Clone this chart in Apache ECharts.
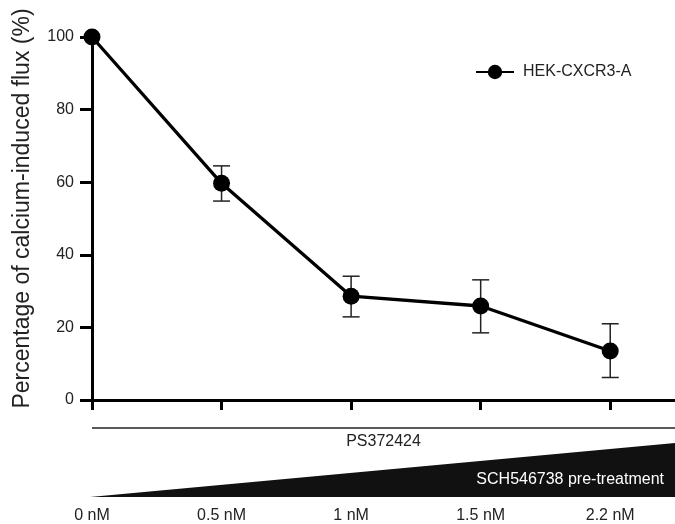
<!DOCTYPE html>
<html>
<head>
<meta charset="utf-8">
<script src="https://cdn.jsdelivr.net/npm/echarts@6/dist/echarts.min.js"></script>
<style>
	html, body { margin: 0; padding: 0; background: #fff; }
	#chart { width: 675px; height: 524px; }
</style>
</head>
<body>
<div id="chart"></div>
<script>
	// doses of PS372424 / SCH546738 (x categories)
	const doses = ['0 nM', '0.5 nM', '1 nM', '1.5 nM', '2.2 nM']
	// mean % of calcium-induced flux
	const flux = [100, 59.7, 28.6, 25.9, 13.5]
	// error bar ends (null = no bar drawn)
	const errHigh = [null, 64.5, 34.1, 33.1, 21.0]
	const errLow = [null, 54.8, 22.9, 18.5, 6.2]
	const yTicks = [0, 20, 40, 60, 80, 100]
	const seriesName = 'HEK-CXCR3-A'

	const font = '"Liberation Sans", Arial, sans-serif'
	const txt = '#222'

	const chart = echarts.init(document.getElementById('chart'), null, { renderer: 'canvas' })

	const idx = doses.map((d, i) => i)

	chart.setOption({
		animation: false,
		textStyle: { fontFamily: font },
		grid: { left: 92, right: 0, top: 37, bottom: 121 },
		legend: {
			left: 470,
			top: 59,
			itemWidth: 38,
			itemHeight: 18,
			data: [seriesName],
			textStyle: { fontSize: 16, color: txt, fontFamily: font, padding: [0, 0, 0, 4] }
		},
		xAxis: {
			type: 'value',
			min: 0,
			max: 4.5,
			interval: 1,
			splitLine: { show: false },
			axisLine: { lineStyle: { color: '#000', width: 3 } },
			axisTick: { length: 10, customValues: idx, lineStyle: { color: '#000', width: 3 } },
			axisLabel: {
				customValues: idx,
				margin: 108,
				fontSize: 16,
				color: txt,
				fontFamily: font,
				formatter: v => doses[v] || ''
			}
		},
		yAxis: {
			type: 'value',
			min: yTicks[0],
			max: yTicks[yTicks.length - 1],
			interval: 20,
			name: 'Percentage of calcium-induced flux (%)',
			nameLocation: 'middle',
			nameGap: 58,
			nameTextStyle: { fontSize: 23, color: txt, fontFamily: font, padding: [0, 0, 0, 20] },
			splitLine: { show: false },
			axisLine: { show: true, lineStyle: { color: '#000', width: 3 } },
			axisTick: { show: true, length: 12, lineStyle: { color: '#000', width: 3 } },
			axisLabel: { margin: 18, fontSize: 16, color: txt, fontFamily: font }
		},
		series: [{
			type: 'custom',
			name: 'err',
			z: 1,
			silent: true,
			data: idx.map(i => [i, errLow[i], errHigh[i]]),
			renderItem: function (params, api) {
				if (api.value(1) == null || isNaN(api.value(1))) return null
				const lo = api.coord([api.value(0), api.value(1)])
				const hi = api.coord([api.value(0), api.value(2)])
				const w = 8.5
				const style = { stroke: '#222', lineWidth: 1.5 }
				return {
					type: 'group',
					children: [
						{ type: 'line', shape: { x1: lo[0], y1: lo[1], x2: hi[0], y2: hi[1] }, style: style },
						{ type: 'line', shape: { x1: hi[0] - w, y1: hi[1], x2: hi[0] + w, y2: hi[1] }, style: style },
						{ type: 'line', shape: { x1: lo[0] - w, y1: lo[1], x2: lo[0] + w, y2: lo[1] }, style: style }
					]
				}
			}
		}, {
			type: 'line',
			name: seriesName,
			z: 3,
			data: idx.map(i => [i, flux[i]]),
			symbol: 'circle',
			symbolSize: 17,
			lineStyle: { color: '#000', width: 3.3 },
			itemStyle: { color: '#000' }
		}],
		graphic: [
			{
				type: 'line',
				shape: { x1: 92, y1: 428, x2: 675, y2: 428 },
				style: { stroke: '#222', lineWidth: 1.5 }
			},
			{
				type: 'text',
				x: 383.5, y: 442,
				style: { text: 'PS372424', fill: txt, font: '16px ' + font, textAlign: 'center', textVerticalAlign: 'middle' }
			},
			{
				type: 'polygon',
				shape: { points: [[90, 497], [675, 443], [675, 497]] },
				style: { fill: '#111' }
			},
			{
				type: 'text',
				x: 664, y: 480,
				style: { text: 'SCH546738 pre-treatment', fill: '#fff', font: '16px ' + font, textAlign: 'right', textVerticalAlign: 'middle' }
			}
		]
	})
</script>
</body>
</html>
